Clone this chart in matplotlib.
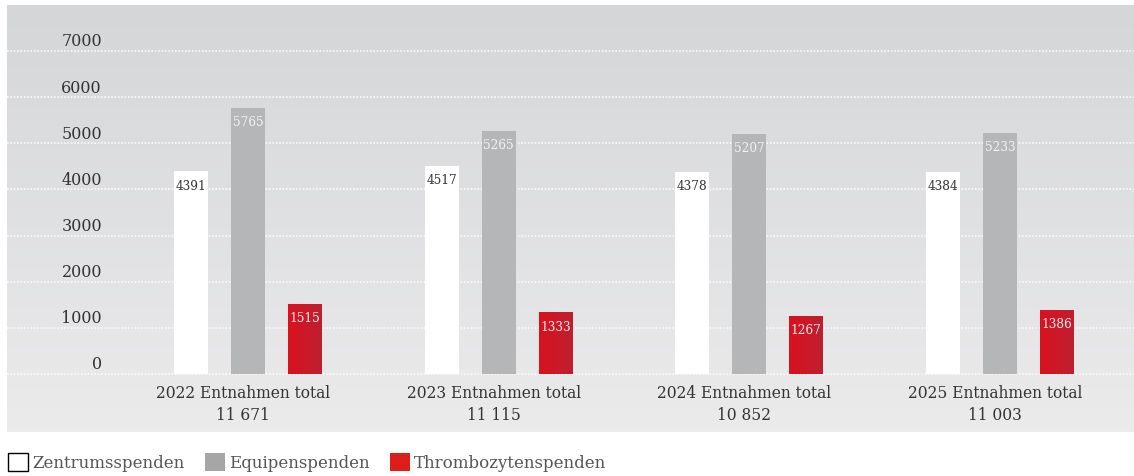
import numpy as np
import matplotlib
matplotlib.use("Agg")
import matplotlib.pyplot as plt
from matplotlib.patches import Patch
from matplotlib.transforms import ScaledTranslation

# ---- data ----
years = ["2022", "2023", "2024", "2025"]
totals = ["11 671", "11 115", "10 852", "11 003"]
zentrum = [4391, 4517, 4378, 4384]
equipe = [5765, 5265, 5207, 5233]
thrombo = [1515, 1333, 1267, 1386]
series_names = ["Zentrumsspenden", "Equipenspenden", "Thrombozytenspenden"]
yticks = [0, 1000, 2000, 3000, 4000, 5000, 6000, 7000]

plt.rcParams['font.family'] = ['DejaVu Serif']

W, H = 1134, 477
fig = plt.figure(figsize=(W / 100, H / 100), dpi=100)
fig.patch.set_facecolor("white")

# panel from x=7..1134, y=6..433 (pixels from top)
ax = fig.add_axes([7 / W, (H - 433) / H, (W - 7) / W, (433 - 6) / H])

px_per_unit = (375 - 52) / 7000.0
ymax = (375 - 6) / px_per_unit
ymin = -(433 - 375) / px_per_unit
gspace = 250.7
xmin = (7 - 248) / gspace
xmax = (1134 - 248) / gspace
ax.set_xlim(xmin, xmax)
ax.set_ylim(ymin, ymax)

# gradient background
grad = np.linspace(0, 1, 256).reshape(-1, 1)
top = np.array([0.835, 0.839, 0.847])
bot = np.array([0.922, 0.922, 0.926])
img = top[None, None, :] * (1 - grad[:, :, None]) + bot[None, None, :] * grad[:, :, None]
ax.imshow(img, extent=[xmin, xmax, ymin, ymax], aspect="auto", zorder=0, origin="upper")

for s in ax.spines.values():
    s.set_visible(False)

# grid
ax.set_yticks(yticks)
ax.set_xticks([])
ax.yaxis.grid(True, color="white", linestyle=(0, (1, 1.2)), linewidth=1.1, zorder=1)
ax.set_axisbelow(True)
ax.tick_params(axis="y", length=0, pad=-68.4, labelsize=11.5, labelcolor="#333333")
ax.set_yticklabels([str(v) for v in yticks], ha="right")
off = ScaledTranslation(0, 12 / 100, fig.dpi_scale_trans)
for lab in ax.get_yticklabels():
    lab.set_transform(lab.get_transform() + off)

x = np.arange(len(years))
offset = 57 / gspace
bw = 34 / gspace

b1 = ax.bar(x - offset, zentrum, bw, color="white", zorder=2)
b2 = ax.bar(x, equipe, bw, color="#b5b6b8", zorder=2)
b3 = ax.bar(x + offset, thrombo, bw, color="#d0182a", zorder=2)

# red gradient on red bars
rg = np.linspace(0, 1, 64).reshape(1, -1)
rl = np.array([0.855, 0.067, 0.122])
rr = np.array([0.745, 0.125, 0.188])
rimg = rl[None, None, :] * (1 - rg[:, :, None]) + rr[None, None, :] * rg[:, :, None]
for bar in b3:
    bx, by = bar.get_x(), bar.get_y()
    im = ax.imshow(rimg, extent=[bx, bx + bar.get_width(), by, by + bar.get_height()],
                   aspect="auto", zorder=2.1)
    im.set_clip_path(bar)

def label_bars(bars, vals, color):
    for bar, v in zip(bars, vals):
        ax.annotate(str(v), xy=(bar.get_x() + bar.get_width() / 2, v),
                    xytext=(0, -10), textcoords="offset points",
                    ha="center", va="center", fontsize=8.7, color=color, zorder=5)

label_bars(b1, zentrum, "#333333")
label_bars(b2, equipe, "#f2f2f2")
label_bars(b3, thrombo, "#f8eaea")

for xi, yr, tot in zip(x, years, totals):
    ax.annotate(f"{yr} Entnahmen total\n{tot}", xy=(xi - 0.02, 0),
                xytext=(0, -7), textcoords="offset points",
                ha="center", va="top", fontsize=11.2, color="#333333",
                linespacing=1.4)

handles = [Patch(facecolor="white", edgecolor="black", linewidth=1.0),
           Patch(facecolor="#a6a6a6", edgecolor="none"),
           Patch(facecolor="#dc1f1a", edgecolor="none")]
fig.legend(handles, series_names, loc="lower left",
           bbox_to_anchor=(0 / W, -0.008), ncol=3, frameon=False,
           handlelength=1.2, handleheight=1.3, handletextpad=0.25,
           columnspacing=1.2, fontsize=12, labelcolor="#555555",
           borderaxespad=0.2, borderpad=0.3)

fig.savefig("out.png", dpi=100)
